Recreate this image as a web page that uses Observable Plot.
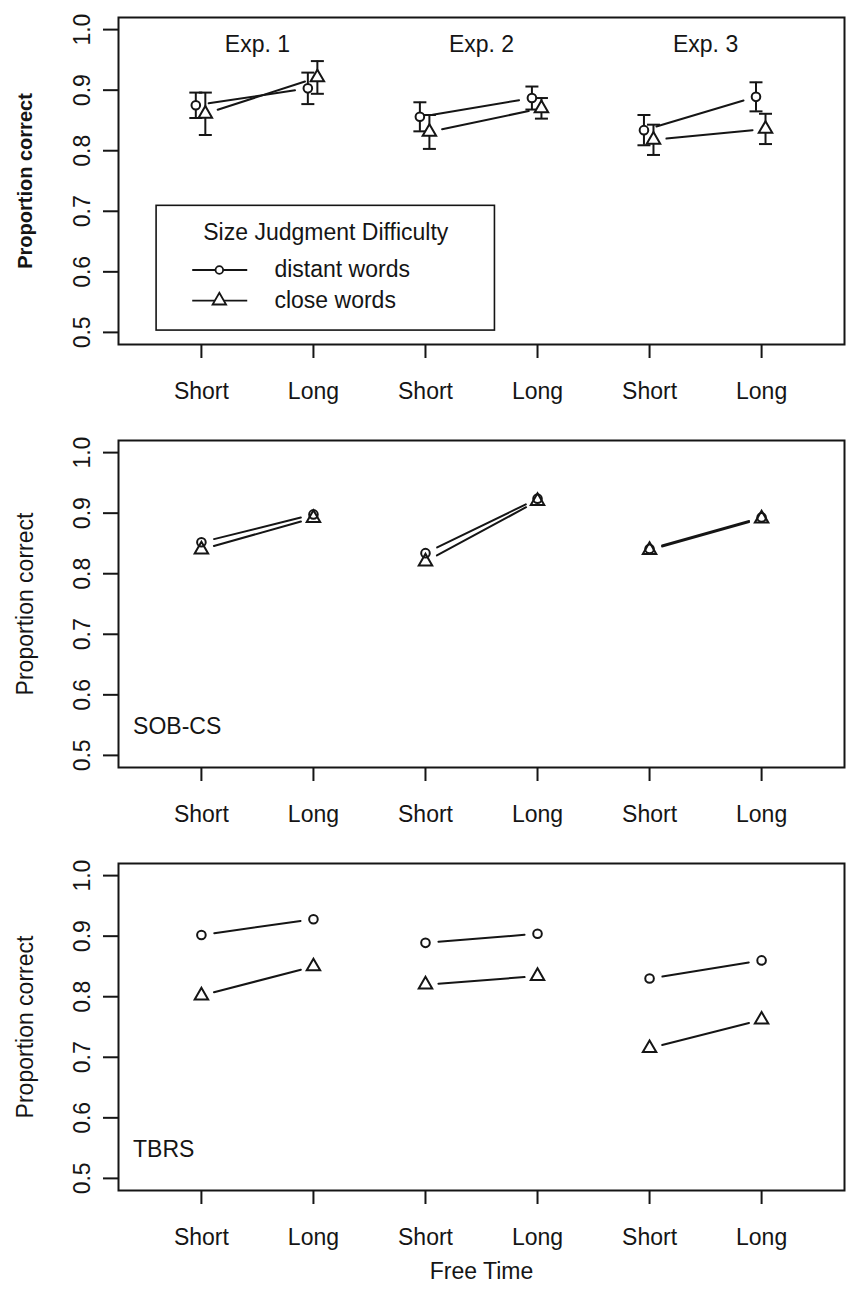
<!DOCTYPE html>
<html><head><meta charset="utf-8">
<script src="https://cdn.jsdelivr.net/npm/d3@7"></script>
<script src="https://cdn.jsdelivr.net/npm/@observablehq/plot@0.6"></script>
<style>
body{margin:0;background:#fff;}
#chart{width:846px;}
#chart svg{display:block;}
</style></head><body><div id="chart"></div>
<script>
// ---------- data ----------
const experiments = ["Exp. 1", "Exp. 2", "Exp. 3"];
const xTickLabels = ["Short", "Long", "Short", "Long", "Short", "Long"];
const yTicks = [0.5, 0.6, 0.7, 0.8, 0.9, 1.0];
const seriesNames = ["distant words", "close words"];
const legendTitle = "Size Judgment Difficulty";
const yTitle = "Proportion correct";
const xTitle = "Free Time";
const panelLabels = ["", "SOB-CS", "TBRS"];

// Panel 1: observed means (Exp1 Short, Exp1 Long, Exp2 Short, ...) with error bars
const obsDistant    = [0.875, 0.903, 0.856, 0.887, 0.834, 0.889];
const obsDistantErr = [0.021, 0.026, 0.024, 0.019, 0.025, 0.024];
const obsClose      = [0.861, 0.921, 0.831, 0.870, 0.818, 0.836];
const obsCloseErr   = [0.035, 0.027, 0.028, 0.017, 0.025, 0.025];
// Panel 2: SOB-CS model
const sobDistant = [0.852, 0.898, 0.834, 0.924, 0.841, 0.893];
const sobClose   = [0.840, 0.892, 0.820, 0.920, 0.839, 0.891];
// Panel 3: TBRS model
const tbrsDistant = [0.902, 0.928, 0.889, 0.904, 0.830, 0.860];
const tbrsClose   = [0.802, 0.850, 0.820, 0.834, 0.715, 0.762];

// ---------- helpers ----------
const INK = "#151515";
const FONT = "'Liberation Sans', Arial, Helvetica, sans-serif";

// custom curve: straight segments that stop short of each point (like R type="b")
function gapCurve(gap) {
  return (context) => {
    let pts = [];
    return {
      areaStart() {}, areaEnd() {},
      lineStart() { pts = []; },
      point(x, y) { pts.push([+x, +y]); },
      lineEnd() {
        for (let i = 0; i + 1 < pts.length; i++) {
          const [x0, y0] = pts[i], [x1, y1] = pts[i + 1];
          const dx = x1 - x0, dy = y1 - y0, L = Math.hypot(dx, dy);
          if (L <= 2 * gap) continue;
          const ux = dx / L, uy = dy / L;
          context.moveTo(x0 + ux * gap, y0 + uy * gap);
          context.lineTo(x1 - ux * gap, y1 - uy * gap);
        }
      }
    };
  };
}
// horizontal cap symbol for error bars
const capSymbol = {draw(ctx, size) { const w = Math.sqrt(size / Math.PI); ctx.moveTo(-w, 0); ctx.lineTo(w, 0); }};

function buildRows(series, errs, dodge) {
  const out = [];
  series.forEach((vals, s) => {
    vals.forEach((v, i) => {
      out.push({
        series: seriesNames[s], s,
        group: s + "-" + Math.floor(i / 2),
        x: i + 1 + (dodge ? dodge[s] : 0),
        y: v,
        err: errs ? errs[s][i] : 0
      });
    });
  });
  return out;
}

function panel({rows, height, marginBottom, errorBars, label, boldTitle, showExp, showLegend, showXTitle}) {
  const pointFill = errorBars ? "white" : "none";
  const marks = [
    Plot.frame({stroke: INK, strokeWidth: 2}),
    Plot.axisX({ticks: [1, 2, 3, 4, 5, 6], tickSize: 14, tickPadding: 24, tickFormat: d => xTickLabels[d - 1],
                label: null, stroke: INK, strokeWidth: 2, fill: INK, fontSize: 23}),
    Plot.axisY({ticks: yTicks, tickSize: 15, tickFormat: () => "", label: null, stroke: INK, strokeWidth: 2}),
    Plot.text(yTicks, {y: d => d, text: d => d.toFixed(1), frameAnchor: "left", dx: -36, rotate: -90,
                       textAnchor: "middle", lineAnchor: "middle", fill: INK, fontSize: 23}),
    Plot.text([yTitle], {frameAnchor: "left", dx: -93, rotate: -90, textAnchor: "middle", lineAnchor: "middle",
                         fill: INK, fontSize: boldTitle ? 20 : 23, fontWeight: boldTitle ? "bold" : "normal"}),
    Plot.line(rows, {x: "x", y: "y", z: "group", stroke: INK, strokeWidth: 2, curve: gapCurve(13)})
  ];
  if (errorBars) {
    const caps = rows.flatMap(d => [{x: d.x, y: d.y - d.err}, {x: d.x, y: d.y + d.err}]);
    marks.push(
      Plot.ruleX(rows, {x: "x", y1: d => d.y - d.err, y2: d => d.y + d.err, stroke: INK, strokeWidth: 2}),
      Plot.dot(caps, {x: "x", y: "y", symbol: capSymbol, r: 6.5, fill: "none", stroke: INK, strokeWidth: 2})
    );
  }
  marks.push(
    Plot.dot(rows.filter(d => d.s === 0), {x: "x", y: "y", symbol: "circle", r: 4.3, fill: pointFill, stroke: INK, strokeWidth: 2}),
    Plot.dot(rows.filter(d => d.s === 1), {x: "x", y: "y", symbol: "triangle", r: 5, fill: pointFill, stroke: INK, strokeWidth: 2})
  );
  if (showExp) {
    marks.push(Plot.text(experiments, {x: (d, i) => 2 * i + 1.5, y: () => 0.976, fill: INK, fontSize: 23}));
  }
  if (label) {
    marks.push(Plot.text([label], {x: () => 0.39, y: () => 0.547, textAnchor: "start", fill: INK, fontSize: 23}));
  }
  if (showLegend) {
    const box = {x1: 0.6, x2: 3.62, y1: 0.503, y2: 0.709};
    const entries = seriesNames.map((name, s) => ({name, s, y: [0.603, 0.5525][s]}));
    marks.push(
      Plot.rect([box], {x1: d => d.x1, x2: d => d.x2, y1: d => d.y1, y2: d => d.y2, fill: "white", stroke: INK, strokeWidth: 1.6}),
      Plot.text([legendTitle], {x: () => (box.x1 + box.x2) / 2, y: () => 0.664, fill: INK, fontSize: 23}),
      Plot.link(entries, {x1: () => 0.918, x2: () => 1.409, y1: "y", y2: "y", stroke: INK, strokeWidth: 1.8}),
      Plot.dot(entries.filter(d => d.s === 0), {x: () => 1.16, y: "y", symbol: "circle", r: 3.8, fill: "white", stroke: INK, strokeWidth: 1.8}),
      Plot.dot(entries.filter(d => d.s === 1), {x: () => 1.16, y: "y", symbol: "triangle", r: 5, fill: "white", stroke: INK, strokeWidth: 1.8}),
      Plot.text(entries, {x: () => 1.652, y: "y", text: "name", textAnchor: "start", fill: INK, fontSize: 23})
    );
  }
  if (showXTitle) {
    marks.push(Plot.text([xTitle], {frameAnchor: "bottom", dy: 81, lineAnchor: "middle", fill: INK, fontSize: 23}));
  }
  return Plot.plot({
    width: 846, height,
    marginLeft: 118, marginRight: 2, marginTop: 17, marginBottom,
    x: {domain: [0.26, 6.74]},
    y: {domain: [0.48, 1.02]},
    style: {fontFamily: FONT, fontSize: "23px", color: INK, background: "white"},
    marks
  });
}

const chart = document.getElementById("chart");
chart.append(panel({
  rows: buildRows([obsDistant, obsClose], [obsDistantErr, obsCloseErr], [-0.05, 0.035]),
  height: 423, marginBottom: 79, errorBars: true, boldTitle: true, showExp: true, showLegend: true, label: panelLabels[0]
}));
chart.append(panel({
  rows: buildRows([sobDistant, sobClose]),
  height: 423, marginBottom: 79, label: panelLabels[1]
}));
chart.append(panel({
  rows: buildRows([tbrsDistant, tbrsClose]),
  height: 457, marginBottom: 113, label: panelLabels[2], showXTitle: true
}));
</script>
</body></html>
